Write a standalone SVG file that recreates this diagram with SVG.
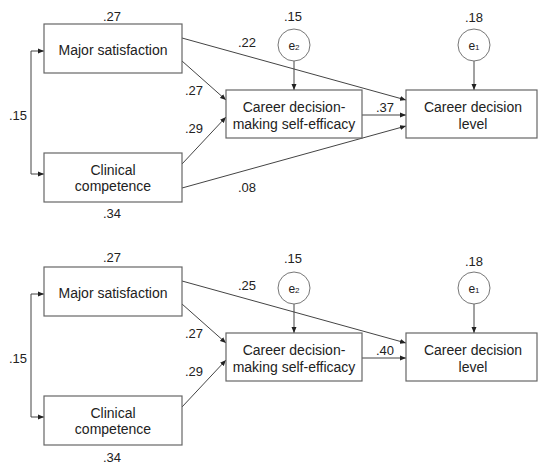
<svg xmlns="http://www.w3.org/2000/svg" width="539" height="464" viewBox="0 0 539 464">
<style>
.box{fill:#fff;stroke:#666;stroke-width:1.2}
.err{fill:#fff;stroke:#777;stroke-width:1}
.t{font-family:"Liberation Sans",Arial,sans-serif;font-size:14px;fill:#222;text-anchor:middle}
.n{font-family:"Liberation Sans",Arial,sans-serif;font-size:13px;fill:#222;text-anchor:middle}
.e{font-family:"Liberation Sans",Arial,sans-serif;font-size:12px;fill:#222;text-anchor:middle}
.c{fill:none;stroke:#444;stroke-width:1;marker-end:url(#ah)}
</style>
<defs>
<marker id="ah" viewBox="0 0 6 6" refX="6" refY="3" markerWidth="6" markerHeight="6" markerUnits="userSpaceOnUse" orient="auto">
<path d="M0,0.5 L6,3 L0,5.5 Z" fill="#222"/>
</marker>
</defs>
<rect width="539" height="464" fill="#fff"/>

<g id="model1">
<g id="connectors1">
<path class="c" d="M31,51 L31,174 L44,174"/>
<path class="c" d="M31,51 L44,51"/>
<path class="c" d="M182,38 L406,100"/>
<path class="c" d="M182,61 L226,100"/>
<path class="c" d="M182,164 L226,117"/>
<path class="c" d="M182,188 L406,126"/>
<path class="c" d="M362,115 L406,115"/>
<path class="c" d="M294,61 L294,90"/>
<path class="c" d="M474,61 L474,90"/>
<text class="n" x="18" y="120">.15</text>
<text class="n" x="247" y="47">.22</text>
<text class="n" x="194" y="95">.27</text>
<text class="n" x="194" y="133">.29</text>
<text class="n" x="247" y="192">.08</text>
<text class="n" x="385" y="112">.37</text>
</g>
<g id="major1">
<rect class="box" x="44" y="24" width="138" height="49"/>
<text class="t" x="113" y="55">Major satisfaction</text>
<text class="n" x="112" y="21">.27</text>
</g>
<g id="clinical1">
<rect class="box" x="44" y="153" width="138" height="49"/>
<text class="t" x="113" y="175">Clinical</text>
<text class="t" x="113" y="191">competence</text>
<text class="n" x="112" y="218">.34</text>
</g>
<g id="cdmse1">
<rect class="box" x="226" y="90" width="136" height="48"/>
<text class="t" x="294" y="112">Career decision-</text>
<text class="t" x="294" y="129">making self-efficacy</text>
</g>
<g id="cdl1">
<rect class="box" x="406" y="90" width="131" height="48"/>
<text class="t" x="473" y="112">Career decision</text>
<text class="t" x="473" y="129">level</text>
</g>
<g id="e2a">
<circle class="err" cx="294" cy="45" r="16"/>
<text class="e" x="294" y="50">e<tspan font-size="8">2</tspan></text>
<text class="n" x="293" y="21">.15</text>
</g>
<g id="e1a">
<circle class="err" cx="474" cy="45" r="16"/>
<text class="e" x="474" y="50">e<tspan font-size="8">1</tspan></text>
<text class="n" x="474" y="22">.18</text>
</g>
</g>

<g id="model2" transform="translate(0,243)">
<g id="connectors2">
<path class="c" d="M31,51 L31,174 L44,174"/>
<path class="c" d="M31,51 L44,51"/>
<path class="c" d="M182,38 L406,100"/>
<path class="c" d="M182,61 L226,100"/>
<path class="c" d="M182,164 L226,117"/>
<path class="c" d="M362,115 L406,115"/>
<path class="c" d="M294,61 L294,90"/>
<path class="c" d="M474,61 L474,90"/>
<text class="n" x="18" y="120">.15</text>
<text class="n" x="247" y="47">.25</text>
<text class="n" x="194" y="95">.27</text>
<text class="n" x="194" y="133">.29</text>
<text class="n" x="385" y="112">.40</text>
</g>
<g id="major2">
<rect class="box" x="44" y="24" width="138" height="49"/>
<text class="t" x="113" y="55">Major satisfaction</text>
<text class="n" x="112" y="19">.27</text>
</g>
<g id="clinical2">
<rect class="box" x="44" y="153" width="138" height="49"/>
<text class="t" x="113" y="175">Clinical</text>
<text class="t" x="113" y="191">competence</text>
<text class="n" x="112" y="219">.34</text>
</g>
<g id="cdmse2">
<rect class="box" x="226" y="90" width="136" height="48"/>
<text class="t" x="294" y="112">Career decision-</text>
<text class="t" x="294" y="129">making self-efficacy</text>
</g>
<g id="cdl2">
<rect class="box" x="406" y="90" width="131" height="48"/>
<text class="t" x="473" y="112">Career decision</text>
<text class="t" x="473" y="129">level</text>
</g>
<g id="e2b">
<circle class="err" cx="294" cy="45" r="16"/>
<text class="e" x="294" y="50">e<tspan font-size="8">2</tspan></text>
<text class="n" x="293" y="20">.15</text>
</g>
<g id="e1b">
<circle class="err" cx="474" cy="45" r="16"/>
<text class="e" x="474" y="50">e<tspan font-size="8">1</tspan></text>
<text class="n" x="474" y="23">.18</text>
</g>
</g>
</svg>
